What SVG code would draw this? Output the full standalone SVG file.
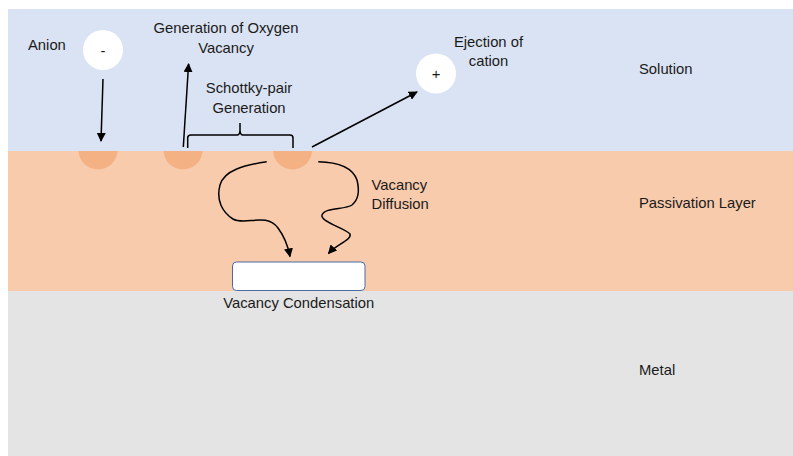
<svg xmlns="http://www.w3.org/2000/svg" width="793" height="456" viewBox="0 0 793 456">
<defs>
<style>
text{font-family:"Liberation Sans",Arial,sans-serif;font-size:14.8px;fill:#1a1a1a}
.c{text-anchor:middle}
.ln{fill:none;stroke:#000;stroke-width:1.5}
.pit{fill:#F4B183}
.ion{fill:#fff}
</style>
<marker id="ah" viewBox="0 0 10 10" refX="9" refY="5" markerWidth="9" markerHeight="9" markerUnits="userSpaceOnUse" orient="auto">
<path d="M0,0 L10,5 L0,10 z" fill="#000"/>
</marker>
<clipPath id="clipP"><rect x="8" y="151" width="785" height="140"/></clipPath>
</defs>
<rect x="0" y="0" width="793" height="456" fill="#fff"/>
<g id="solution"><rect x="8" y="9" width="785" height="142" fill="#DAE3F3"/><text x="639" y="74">Solution</text></g>
<g id="passivation"><rect x="8" y="151" width="785" height="140" fill="#F8CBAD"/><text x="639" y="208">Passivation Layer</text></g>
<g id="metal"><rect x="8" y="291" width="785" height="165" fill="#E4E4E4"/><text x="639" y="375">Metal</text></g>
<g id="pits" clip-path="url(#clipP)">
<circle class="pit" cx="98" cy="150" r="19.5"/>
<circle class="pit" cx="183" cy="150" r="19.5"/>
<circle class="pit" cx="292.5" cy="150" r="19.5"/>
</g>
<g id="anion"><circle class="ion" cx="103" cy="50" r="20"/><text class="c" x="103" y="56">-</text><text x="28" y="50">Anion</text></g>
<g id="cation"><circle class="ion" cx="436" cy="73.5" r="20"/><text class="c" x="436" y="79">+</text><text class="c" x="488.5" y="47">Ejection of</text><text class="c" x="488.5" y="66">cation</text></g>
<g id="oxygen-vacancy"><text class="c" x="226" y="33">Generation of Oxygen</text><text class="c" x="226" y="53">Vacancy</text></g>
<g id="schottky"><text class="c" x="249" y="93">Schottky-pair</text><text class="c" x="249" y="113">Generation</text>
<path class="ln" d="M187.7,148 L187.7,138 Q187.7,135 191,135 L237,135 Q240,135 240,130 L240,123 M240,130 Q240,135 243,135 L290,135 Q293,135 293,138 L293,148"/></g>
<g id="condensation"><rect x="232.5" y="262" width="132.5" height="28.5" rx="4" fill="#fff" stroke="#4A6AA5" stroke-width="1"/><text class="c" x="298.7" y="308">Vacancy Condensation</text></g>
<g id="diffusion"><text x="371.5" y="190">Vacancy</text><text x="371.5" y="209">Diffusion</text></g>
<g id="connectors">
<path class="ln" d="M103,79 L101,141" marker-end="url(#ah)"/>
<path class="ln" d="M183.3,147 L188.6,64" marker-end="url(#ah)"/>
<path class="ln" d="M312,147 L417,92" marker-end="url(#ah)"/>
<path class="ln" d="M266.7,161.7 C245,165 224,170 220,185 C216,200 222,212 233,219 C245,226 266,212 278,228 C284,236 288,246 290,256.5" marker-end="url(#ah)"/>
<path class="ln" d="M318.3,161.7 C335,162 352,166 357,180 C360,192 358,200 352,205 C345,210 325,207 322,215 C320,222 345,228 350,234 C352,240 337,244 328.5,253.5" marker-end="url(#ah)"/>
</g>
</svg>
